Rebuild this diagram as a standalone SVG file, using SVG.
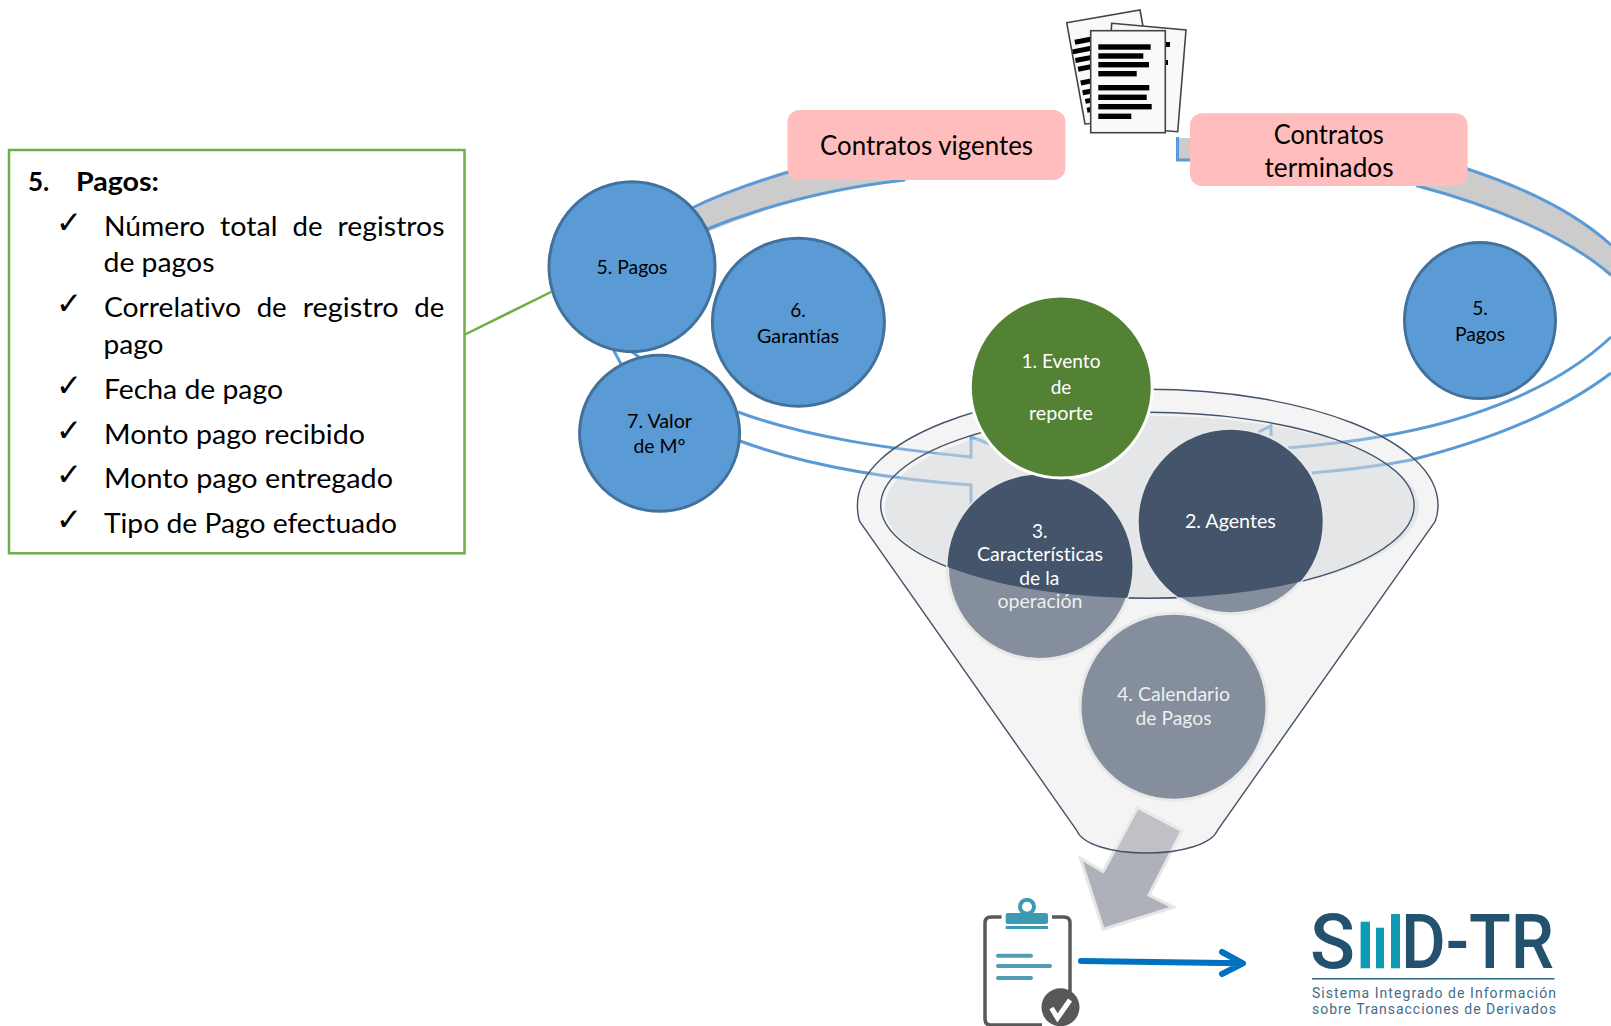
<svg xmlns="http://www.w3.org/2000/svg" xmlns:xlink="http://www.w3.org/1999/xlink" width="1611" height="1026" viewBox="0 0 1611 1026">
<style>
text{font-family:Lato,"Liberation Sans",sans-serif;font-variant-ligatures:none}
.t{font-size:26px;fill:#000}
.c{font-size:19px;text-anchor:middle;fill:#000}
.w{font-size:19px;text-anchor:middle;fill:#fff}
.p{font-size:26px;text-anchor:middle;fill:#000}
.ck{font-family:"DejaVu Sans",sans-serif;font-size:31px;fill:#000}
.blue{fill:#5b9bd5;stroke:#41719c;stroke-width:3}
.ln{fill:none;stroke:#5b9bd5;stroke-width:3}
.band{fill:#cccccc}
.pill{fill:#ffbdbd}
.fun{stroke:none;fill:#f4f4f4}
.fl{fill:none;stroke:#44546a;stroke-width:1.4}
.doc{fill:#f9f9f9;stroke:#444;stroke-width:1.6}
.dk{fill:#44546a}
.lt{fill:#858e9c;stroke:#e8e8e8;stroke-width:3}
.bar{fill:#000}
</style>
<defs>
<path id="funnel" d="M857.4 505C857.4 440 990 389.3 1147.7 389.3C1305 389.3 1438 440 1438 505C1438 511 1437 517 1435 521.7L1217.6 830C1212 844 1182 853 1146.4 853C1110 853 1082 844 1076.5 830L859.8 521.7C858 517 857.4 511 857.4 505Z"/>
<clipPath id="ell"><ellipse cx="1147.4" cy="505.3" rx="266.7" ry="93"/></clipPath>
</defs>

<use id="funnel-base" xlink:href="#funnel" href="#funnel" class="fun"/>

<g id="connectors">
<path id="band-left" class="band" d="M680 216C715 198 750 184 790 171L900 160L910 180C840 187 770 205 700 235Z"/>
<path id="band-right" class="band" d="M1177 138H1195V160H1177ZM1460 166C1525 190 1575 215 1611 245V277C1575 245 1510 210 1410 183Z"/>
<path class="ln" d="M690 209C720 194 755 182 790 171.500M702 231C765 205 835 188 905 180"/>
<path class="ln" d="M1195 160H1177.500V137"/>
<path class="ln" d="M1466 168.500C1525 188 1575 212 1611 245M1416 185.500C1490 205 1565 235 1611 275"/>
<path class="ln" d="M1611 337C1560 385 1480 420 1378 437C1350 442 1320 445 1288 448"/>
<path class="ln" d="M1611 373C1560 412 1490 440 1411 460C1380 466 1345 470 1312 473"/>
<path class="ln" d="M738 412C805 437 890 449 971 457V437L990 444"/>
<path class="ln" d="M740 441C805 465 890 479 971 485V505"/>
<path class="ln" d="M613.500 350L621 364M632.500 352L640 358"/>
<path class="ln" d="M1258.500 432L1271 426V436"/>
<line x1="464" y1="335" x2="551" y2="292" stroke="#70ad47" stroke-width="2.500"/>
<path d="M1081 961L1242 963.300M1222 952L1243 963.300L1222 974" fill="none" stroke="#0070c0" stroke-width="6" stroke-linecap="round" stroke-linejoin="round"/>
</g>

<g id="down-arrow">
<polygon points="1137.700,807.300 1182,830.700 1148.900,895 1173.800,907.300 1103.200,929.300 1080.400,858.300 1103.200,871.700" fill="#aeb1b9" stroke="#e6e6e6" stroke-width="3"/>
</g>

<g id="funnel-shape">
<use xlink:href="#funnel" href="#funnel" class="fun" opacity="0.25"/>
<ellipse cx="1152" cy="507" rx="267" ry="91" fill="#cfd2d6" opacity="0.42"/>
<use xlink:href="#funnel" href="#funnel" class="fl"/>
<ellipse cx="1147.400" cy="505.300" rx="266.700" ry="93" class="fl"/>
</g>

<g id="documents">
<polygon class="doc" points="1066.700,22.700 1140,10 1160,118 1085,124"/>
<g class="bar" transform="rotate(-11 1066.700 22.700)">
<rect x="1071" y="41" width="20" height="5"/><rect x="1067" y="50" width="24" height="5"/><rect x="1068" y="59" width="22" height="5"/><rect x="1069" y="68" width="20" height="5"/>
<rect x="1069" y="82" width="20" height="5"/><rect x="1069" y="92" width="20" height="5"/><rect x="1070" y="101" width="16" height="5"/><rect x="1070" y="110" width="14" height="5"/>
</g>
<polygon class="doc" points="1111.700,23.300 1186,30 1177.700,131.700 1105,126"/>
<rect x="1165" y="42" width="5" height="5" class="bar"/><rect x="1165" y="60" width="3" height="5" class="bar"/>
<rect class="doc" x="1090.700" y="30.700" width="74.600" height="102"/>
<g class="bar">
<rect x="1098.300" y="44.300" width="52.400" height="5.400"/><rect x="1098.300" y="53.300" width="45" height="5.400"/><rect x="1098.300" y="62" width="50.700" height="5.400"/><rect x="1098.300" y="71" width="38.400" height="5.400"/>
<rect x="1098.300" y="85" width="51" height="5.400"/><rect x="1098.300" y="94.600" width="48.400" height="5.400"/><rect x="1098.300" y="104" width="53.400" height="5.400"/><rect x="1098.300" y="113.600" width="33" height="5.400"/>
</g>
</g>

<g id="pill-vigentes">
<rect class="pill" x="787.500" y="110" width="277.900" height="70" rx="12"/>
<text class="p" x="926.500" y="155" textLength="213" lengthAdjust="spacingAndGlyphs">Contratos vigentes</text>
</g>
<g id="pill-terminados">
<rect class="pill" x="1190" y="113.300" width="277.600" height="72.700" rx="12"/>
<text class="p" x="1328.800" y="143.700" textLength="110" lengthAdjust="spacingAndGlyphs">Contratos</text>
<text class="p" x="1329" y="176.500" textLength="129" lengthAdjust="spacingAndGlyphs">terminados</text>
</g>

<g id="node-pagos-left">
<ellipse class="blue" cx="632" cy="266.700" rx="83" ry="85"/>
<text class="c" x="632" y="274" textLength="71" lengthAdjust="spacingAndGlyphs">5. Pagos</text>
</g>
<g id="node-garantias">
<ellipse class="blue" cx="798.400" cy="322.300" rx="86" ry="84"/>
<text class="c" x="798" y="316.700">6.</text>
<text class="c" x="798" y="342.700" textLength="82" lengthAdjust="spacingAndGlyphs">Garantías</text>
</g>
<g id="node-valor">
<ellipse class="blue" cx="659.600" cy="433.300" rx="80" ry="78"/>
<text class="c" x="659.500" y="428" textLength="65" lengthAdjust="spacingAndGlyphs">7. Valor</text>
<text class="c" x="659.500" y="452.700" textLength="52" lengthAdjust="spacingAndGlyphs">de M°</text>
</g>
<g id="node-pagos-right">
<ellipse class="blue" cx="1480" cy="320.600" rx="75.500" ry="78"/>
<text class="c" x="1480" y="315">5.</text>
<text class="c" x="1480" y="340.700" textLength="50" lengthAdjust="spacingAndGlyphs">Pagos</text>
</g>

<g id="node-agentes">
<circle class="lt" cx="1230.700" cy="521.700" r="92"/>
<circle class="dk" cx="1230.700" cy="521.700" r="92" clip-path="url(#ell)"/>
<text class="w" x="1230.400" y="527.700" textLength="91" lengthAdjust="spacingAndGlyphs">2. Agentes</text>
</g>
<g id="node-caracteristicas">
<circle class="lt" cx="1040" cy="567" r="92.500"/>
<circle class="dk" cx="1040" cy="567" r="92.500" clip-path="url(#ell)"/>
<text class="w" x="1039.700" y="538.300">3.</text>
<text class="w" x="1040" y="561" textLength="126" lengthAdjust="spacingAndGlyphs">Características</text>
<text class="w" x="1039.300" y="585" textLength="40" lengthAdjust="spacingAndGlyphs">de la</text>
<text class="w" x="1040" y="608" textLength="85" lengthAdjust="spacingAndGlyphs" fill-opacity="0.88">operación</text>
</g>
<g id="node-calendario">
<circle class="lt" cx="1173.500" cy="706.700" r="93.500"/>
<text class="w" x="1173.500" y="701" textLength="113" lengthAdjust="spacingAndGlyphs" fill-opacity="0.88">4. Calendario</text>
<text class="w" x="1173.500" y="725" textLength="76" lengthAdjust="spacingAndGlyphs" fill-opacity="0.88">de Pagos</text>
</g>
<g id="node-evento">
<circle cx="1061.300" cy="387" r="91" fill="#548235" stroke="#fff" stroke-width="3"/>
<text class="w" x="1061" y="367.700" textLength="79" lengthAdjust="spacingAndGlyphs">1. Evento</text>
<text class="w" x="1061" y="394">de</text>
<text class="w" x="1061" y="420" textLength="64" lengthAdjust="spacingAndGlyphs">reporte</text>
</g>

<g id="pagos-detail">
<rect x="9" y="150" width="455.500" height="403.300" fill="#fff" stroke="#70ad47" stroke-width="2.500"/>
<text class="t" x="28" y="191" font-weight="700">5.</text>
<text class="t" x="76" y="191" font-weight="700" textLength="83" lengthAdjust="spacingAndGlyphs">Pagos:</text>
<text class="ck" x="56" y="233">✓</text>
<text class="t" x="104" y="236" textLength="101" lengthAdjust="spacingAndGlyphs">Número</text>
<text class="t" x="220" y="236" textLength="57.500" lengthAdjust="spacingAndGlyphs">total</text>
<text class="t" x="292.500" y="236" textLength="30" lengthAdjust="spacingAndGlyphs">de</text>
<text class="t" x="337.500" y="236" textLength="107" lengthAdjust="spacingAndGlyphs">registros</text>
<text class="t" x="103.500" y="272" textLength="111" lengthAdjust="spacingAndGlyphs">de pagos</text>
<text class="ck" x="56" y="314">✓</text>
<text class="t" x="104" y="317" textLength="137" lengthAdjust="spacingAndGlyphs">Correlativo</text>
<text class="t" x="256.700" y="317" textLength="30" lengthAdjust="spacingAndGlyphs">de</text>
<text class="t" x="302.700" y="317" textLength="96" lengthAdjust="spacingAndGlyphs">registro</text>
<text class="t" x="414.300" y="317" textLength="30" lengthAdjust="spacingAndGlyphs">de</text>
<text class="t" x="103.500" y="354" textLength="60" lengthAdjust="spacingAndGlyphs">pago</text>
<text class="ck" x="56" y="396">✓</text>
<text class="t" x="104" y="399" textLength="179" lengthAdjust="spacingAndGlyphs">Fecha de pago</text>
<text class="ck" x="56" y="441">✓</text>
<text class="t" x="104" y="444" textLength="261" lengthAdjust="spacingAndGlyphs">Monto pago recibido</text>
<text class="ck" x="56" y="485">✓</text>
<text class="t" x="104" y="488" textLength="289" lengthAdjust="spacingAndGlyphs">Monto pago entregado</text>
<text class="ck" x="56" y="530">✓</text>
<text class="t" x="104" y="533" textLength="293" lengthAdjust="spacingAndGlyphs">Tipo de Pago efectuado</text>
</g>

<g id="clipboard">
<path d="M1001.500 917H991Q985 917 985 923V1019Q985 1025 991 1025H1042M1052 917H1064Q1070 917 1070 923V992" fill="none" stroke="#595959" stroke-width="3.500"/>
<circle cx="1027" cy="906.700" r="7" fill="none" stroke="#3d9ab3" stroke-width="4"/>
<rect x="1005.700" y="913" width="42.300" height="11" rx="2" fill="#3d9ab3"/>
<rect x="1005.700" y="926" width="42.300" height="3" fill="#3d9ab3"/>
<g stroke="#4f9cb3" stroke-width="4" stroke-linecap="round">
<line x1="998" y1="955.700" x2="1031" y2="955.700"/><line x1="998" y1="966" x2="1050" y2="966"/><line x1="998" y1="978" x2="1031" y2="978"/>
</g>
<circle cx="1060.500" cy="1007.300" r="19" fill="#58585a"/>
<path d="M1051.500 1008L1057.500 1018L1070 1000" fill="none" stroke="#fff" stroke-width="5"/>
</g>

<g id="logo">
<text x="1310" y="968" font-size="76" font-weight="500" fill="#22526e" textLength="45" lengthAdjust="spacingAndGlyphs" style="font-family:Roboto,sans-serif">S</text>
<rect x="1360.600" y="921.700" width="9.400" height="46.600" fill="#0f9bb3"/>
<rect x="1376" y="927.700" width="8" height="40.600" fill="#0f9bb3"/>
<rect x="1391" y="914" width="9" height="54.300" fill="#0f9bb3"/>
<text x="1401" y="968" font-size="76" font-weight="500" fill="#22526e" textLength="153" lengthAdjust="spacingAndGlyphs" style="font-family:Roboto,sans-serif">D-TR</text>
<line x1="1312" y1="978.700" x2="1554.500" y2="978.700" stroke="#2a6485" stroke-width="1.500"/>
<text x="1312" y="998" font-size="14" fill="#3f6d87" textLength="244" lengthAdjust="spacing" style="font-family:Roboto,sans-serif">Sistema Integrado de Información</text>
<text x="1312" y="1014" font-size="14" fill="#3f6d87" textLength="244" lengthAdjust="spacing" style="font-family:Roboto,sans-serif">sobre Transacciones de Derivados</text>
</g>
</svg>
